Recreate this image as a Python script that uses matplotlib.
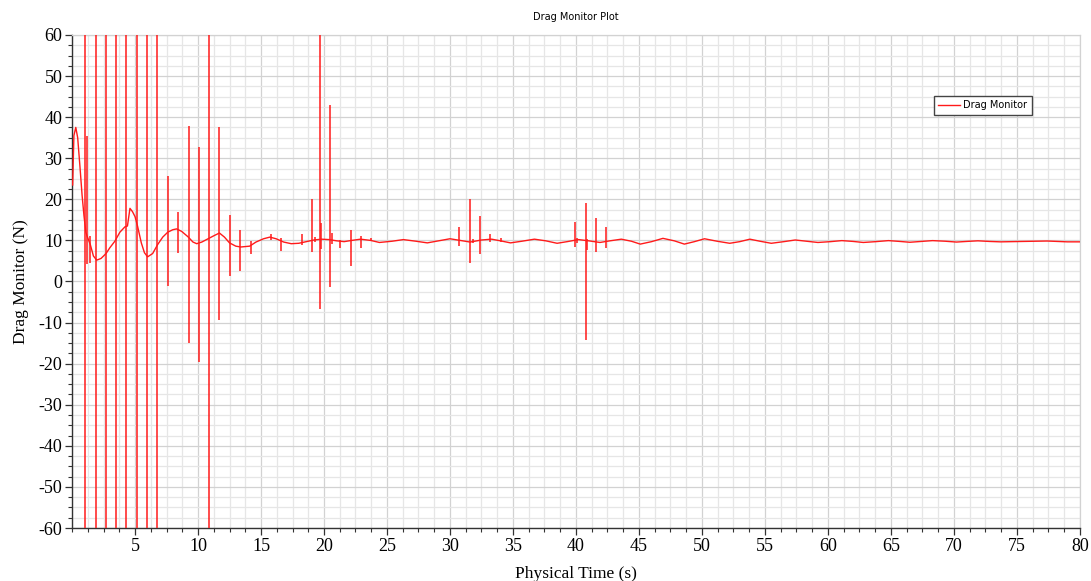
import matplotlib
matplotlib.use('Agg')
import matplotlib.pyplot as plt
from matplotlib.ticker import MultipleLocator
import numpy as np

plt.rcParams['axes.unicode_minus'] = False

# smooth part of the drag monitor trace (time s, drag N)
base_t = [0.05, 0.15, 0.3, 0.45, 0.63, 0.8, 0.95, 1.1, 1.2, 1.45, 1.7, 1.96, 2.3, 2.7,
          3.0, 3.4, 3.8, 4.2, 4.4, 4.6, 4.8, 5.0, 5.2, 5.5, 5.75, 6.0, 6.4, 6.8, 7.2,
          7.6, 8.0, 8.3, 8.7, 9.2, 9.6, 9.9, 10.3, 10.8, 11.3, 11.7, 12.1, 12.5, 13.0,
          13.4, 14.1, 14.6, 15.2, 15.7, 16.2, 16.8, 17.4, 18.0, 18.6, 19.2, 19.8, 20.4,
          21.0, 21.6, 22.2, 22.9, 23.7, 24.4, 25.4, 26.3, 27.3, 28.2, 29.1, 30.0, 30.8,
          31.6, 32.5, 33.3, 34.0, 34.8, 35.7, 36.7, 37.6, 38.5, 39.3, 40.2, 41.0, 41.9,
          42.7, 43.6, 44.4, 45.1, 46.0, 46.9, 47.8, 48.6, 49.4, 50.2, 51.2, 52.2, 53.0,
          53.8, 54.6, 55.5, 56.5, 57.4, 58.3, 59.2, 60.2, 61.1, 62.0, 62.8, 63.8, 64.8,
          65.7, 66.5, 67.4, 68.3, 69.3, 70.2, 71.0, 71.9, 72.8, 73.7, 75.5, 77.4, 78.2,
          79.0, 80.0]
base_v = [23.5, 35.5, 37.5, 35.0, 28.0, 21.0, 16.0, 12.0, 11.0, 9.0, 6.2, 5.2, 5.6, 6.8,
          8.2, 9.8, 12.0, 13.3, 13.5, 17.8, 17.0, 15.8, 13.5, 9.4, 7.0, 6.0, 6.8, 9.0, 10.8,
          12.0, 12.6, 12.8, 12.2, 10.9, 9.6, 9.2, 9.6, 10.4, 11.2, 11.8, 10.8, 9.4, 8.6,
          8.4, 8.6, 9.6, 10.4, 10.8, 10.4, 9.6, 9.2, 9.3, 9.7, 10.1, 10.3, 10.2,
          9.9, 9.7, 10.0, 10.3, 10.0, 9.5, 9.8, 10.2, 9.8, 9.4, 9.9, 10.4, 10.0,
          9.6, 10.1, 10.3, 9.9, 9.4, 9.8, 10.3, 9.9, 9.3, 9.7, 10.2, 9.9, 9.5,
          9.9, 10.3, 9.8, 9.1, 9.7, 10.5, 9.9, 9.1, 9.7, 10.4, 9.8, 9.3, 9.7,
          10.3, 9.8, 9.3, 9.7, 10.1, 9.8, 9.5, 9.7, 9.95, 9.75, 9.5, 9.7, 9.95,
          9.75, 9.55, 9.75, 9.95, 9.8, 9.6, 9.75, 9.9, 9.75, 9.65, 9.75, 9.85, 9.75,
          9.65, 9.65]

# spikes: time, top, bottom (full-height ones run off the plot)
spike_t = [1.03, 1.2, 1.4, 1.88, 2.67, 3.52, 4.31, 5.13, 5.95, 6.77, 7.6, 8.42, 9.27,
           10.05, 10.9, 11.7, 12.54, 13.33, 14.18, 15.8, 16.6, 18.25, 19.07, 19.3, 19.68,
           19.76, 20.48, 20.63, 21.3, 22.14, 22.94, 23.7, 30.74, 31.59, 31.8, 32.4, 33.2,
           34.05, 39.95, 40.1, 40.8, 40.9, 41.56, 42.4]
spike_hi = [150, 35.4, 11.1, 150, 150, 150, 150, 150, 150, 150, 25.7, 16.9, 37.8,
            32.8, 150, 37.5, 16.3, 12.5, 9.8, 11.6, 10.7, 11.5, 20.2, 10.8, 150,
            14.3, 42.9, 11.9, 10.1, 12.5, 11.1, 10.7, 13.3, 20.1, 10.4, 15.9, 11.5,
            10.5, 14.6, 10.6, 19.2, 10.3, 15.4, 13.2]
spike_lo = [-150, 4.2, 4.5, -150, -150, -150, -150, -150, -150, -150, -1.0, 6.9, -15.0,
            -19.6, -150, -9.4, 1.4, 2.6, 6.6, 10.0, 7.5, 8.9, 7.1, 9.6, -6.8,
            8.0, -1.4, 9.2, 8.1, 3.8, 8.1, 9.9, 8.6, 4.6, 9.3, 6.6, 9.7,
            9.6, 8.5, 9.4, -14.2, 7.7, 7.3, 8.1]

xticks = [5, 10, 15, 20, 25, 30, 35, 40, 45, 50, 55, 60, 65, 70, 75, 80]
yticks = list(range(-60, 61, 10))

red = '#ff1a1a'

fig = plt.figure(figsize=(10.91, 5.81), dpi=100)
ax = fig.add_axes([0.066, 0.0912, 0.9239, 0.8486])

ax.plot(base_t, base_v, color=red, lw=1.0, label='Drag Monitor', zorder=3)
ax.vlines(spike_t, spike_lo, spike_hi, color=red, lw=1.1, zorder=3)

ax.set_xlim(0, 80)
ax.set_ylim(-60, 60)
ax.set_xticks(xticks)
ax.set_yticks(yticks)
ax.xaxis.set_minor_locator(MultipleLocator(1.25))
ax.yaxis.set_minor_locator(MultipleLocator(2.5))

ax.grid(which='major', color='#d2d2d2', lw=0.9, zorder=0)
ax.grid(which='minor', color='#e6e6e6', lw=0.9, zorder=0)
ax.set_axisbelow(True)

for side in ['top', 'right']:
    ax.spines[side].set_color('#d2d2d2')
    ax.spines[side].set_linewidth(0.9)
for side in ['left', 'bottom']:
    ax.spines[side].set_color('#333333')
    ax.spines[side].set_linewidth(1.0)

ax.tick_params(which='major', direction='out', length=5, width=0.9, color='#333333',
               labelsize=13, pad=2)
ax.tick_params(which='minor', direction='out', length=3, width=0.8, color='#333333')
for lab in ax.get_xticklabels() + ax.get_yticklabels():
    lab.set_family('Liberation Serif')

ax.set_xlabel('Physical Time (s)', family='Liberation Serif', fontsize=12.5, labelpad=8)
ax.set_ylabel('Drag Monitor (N)', family='Liberation Serif', fontsize=12.5, labelpad=7)
ax.set_title('Drag Monitor Plot', family='DejaVu Sans', fontsize=7, pad=11)

leg = ax.legend(loc='upper right', bbox_to_anchor=(0.952, 0.877), prop={'family': 'DejaVu Sans', 'size': 7},
                fancybox=False, frameon=True, borderpad=0.5, handlelength=2.2, handletextpad=0.3,
                borderaxespad=0)
leg.get_frame().set_edgecolor('#444444')
leg.get_frame().set_linewidth(1.0)
leg.get_frame().set_alpha(1)

fig.savefig('out.png', dpi=100)
